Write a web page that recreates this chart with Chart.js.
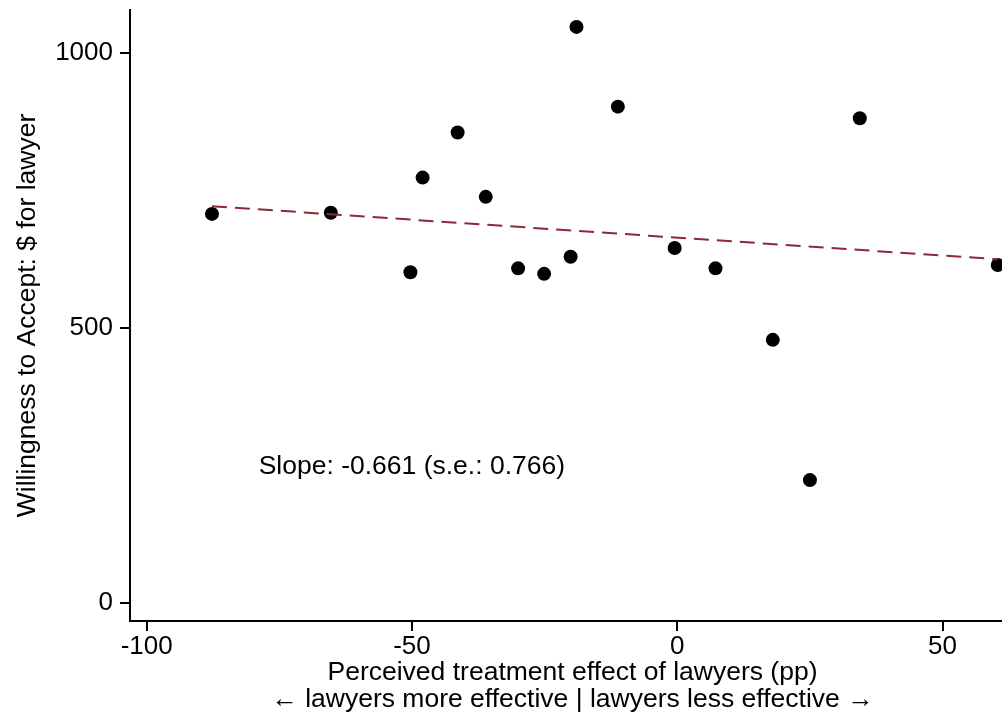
<!DOCTYPE html>
<html>
<head>
<meta charset="utf-8">
<script src="https://cdn.jsdelivr.net/npm/chart.js@4/dist/chart.umd.min.js"></script>
<style>
  html, body { margin: 0; padding: 0; background: #fff; overflow: hidden; }
  /* the plot region runs a little past the right edge, as in the original crop */
  #wrap { width: 1002px; height: 719px; overflow: hidden; }
</style>
</head>
<body>
<div id="wrap"><canvas id="chart" width="1022" height="719"></canvas></div>
<script>
// values
const effectPP = [-87.7, -65.3, -50.3, -48.0, -41.4, -36.1, -30.0, -25.1, -20.1, -19.0, -11.2, -0.5, 7.2, 18.0, 25.0, 34.4, 60.4]
const wtaDollars = [708, 710, 602, 774, 856, 739, 609, 599, 630, 1048, 903, 646, 609, 479, 224, 882, 615]
const fitX = [-87.7, 60.4]
const fitY = [722, 625.5]
const xTicks = [-100, -50, 0, 50]
const yTicks = [0, 500, 1000]

const slopeNote = 'Slope: -0.661 (s.e.: 0.766)'
const xTitle = ['Perceived treatment effect of lawyers (pp)', '\u2190 lawyers more effective | lawyers less effective \u2192']
const yTitle = 'Willingness to Accept: $ for lawyer'

// where the note sits, in data units
const noteAt = { x: -78.9, y: 248 }

const FONT = '"Liberation Sans", Arial, Helvetica, sans-serif'

const notePlugin = {
  id: 'slopeNote',
  afterDatasetsDraw(chart) {
    const { ctx, scales } = chart
    ctx.save()
    ctx.font = '26.5px ' + FONT
    ctx.fillStyle = '#000'
    ctx.textAlign = 'left'
    ctx.textBaseline = 'middle'
    ctx.fillText(slopeNote, scales.x.getPixelForValue(noteAt.x), scales.y.getPixelForValue(noteAt.y))
    ctx.restore()
  }
}

const points = effectPP.map((x, i) => ({ x, y: wtaDollars[i] }))
const fitLine = fitX.map((x, i) => ({ x, y: fitY[i] }))

new Chart(document.getElementById('chart'), {
  type: 'scatter',
  data: {
    datasets: [
      {
        label: 'fit',
        data: fitLine,
        showLine: true,
        borderColor: '#8b2a35',
        borderWidth: 2,
        borderDash: [15, 8],
        pointRadius: 0,
        order: 0
      },
      {
        label: 'wta',
        data: points,
        backgroundColor: '#000',
        borderColor: '#000',
        pointRadius: 7,
        borderWidth: 0,
        order: 1
      }
    ]
  },
  options: {
    responsive: false,
    animation: false,
    devicePixelRatio: 1,
    layout: { padding: { top: 10, right: 0, bottom: 0, left: 0 } },
    plugins: { legend: { display: false }, tooltip: { enabled: false } },
    scales: {
      x: {
        type: 'linear',
        position: 'bottom',
        min: -103.15,
        max: 63.65,
        afterBuildTicks: (scale) => { scale.ticks = xTicks.map(v => ({ value: v })) },
        afterFit: (scale) => {
          scale.height = 98
          scale.paddingLeft = 0
          scale.paddingRight = 0
        },
        grid: { drawOnChartArea: false, drawTicks: true, tickLength: 10, color: '#000', lineWidth: 2 },
        border: { display: true, color: '#000', width: 2 },
        ticks: { color: '#000', padding: 0, maxRotation: 0, font: { family: FONT, size: 26 }, callback: (v) => String(v) },
        title: {
          display: true,
          text: xTitle,
          color: '#000',
          font: { family: FONT, size: 26.5, lineHeight: 1.02 },
          padding: { top: 0, bottom: 5.5 }
        }
      },
      y: {
        type: 'linear',
        position: 'left',
        min: -32.2,
        max: 1078.7,
        afterBuildTicks: (scale) => { scale.ticks = yTicks.map(v => ({ value: v })) },
        afterFit: (scale) => {
          scale.width = 130
          scale.paddingTop = 0
          scale.paddingBottom = 0
        },
        grid: { drawOnChartArea: false, drawTicks: true, tickLength: 10, color: '#000', lineWidth: 2 },
        border: { display: true, color: '#000', width: 2 },
        ticks: { color: '#000', padding: 7, font: { family: FONT, size: 26 }, callback: (v) => String(v) },
        title: {
          display: true,
          text: yTitle,
          color: '#000',
          font: { family: FONT, size: 26.5 },
          padding: { top: 12, bottom: 0 }
        }
      }
    }
  },
  plugins: [notePlugin]
})
</script>
</body>
</html>
